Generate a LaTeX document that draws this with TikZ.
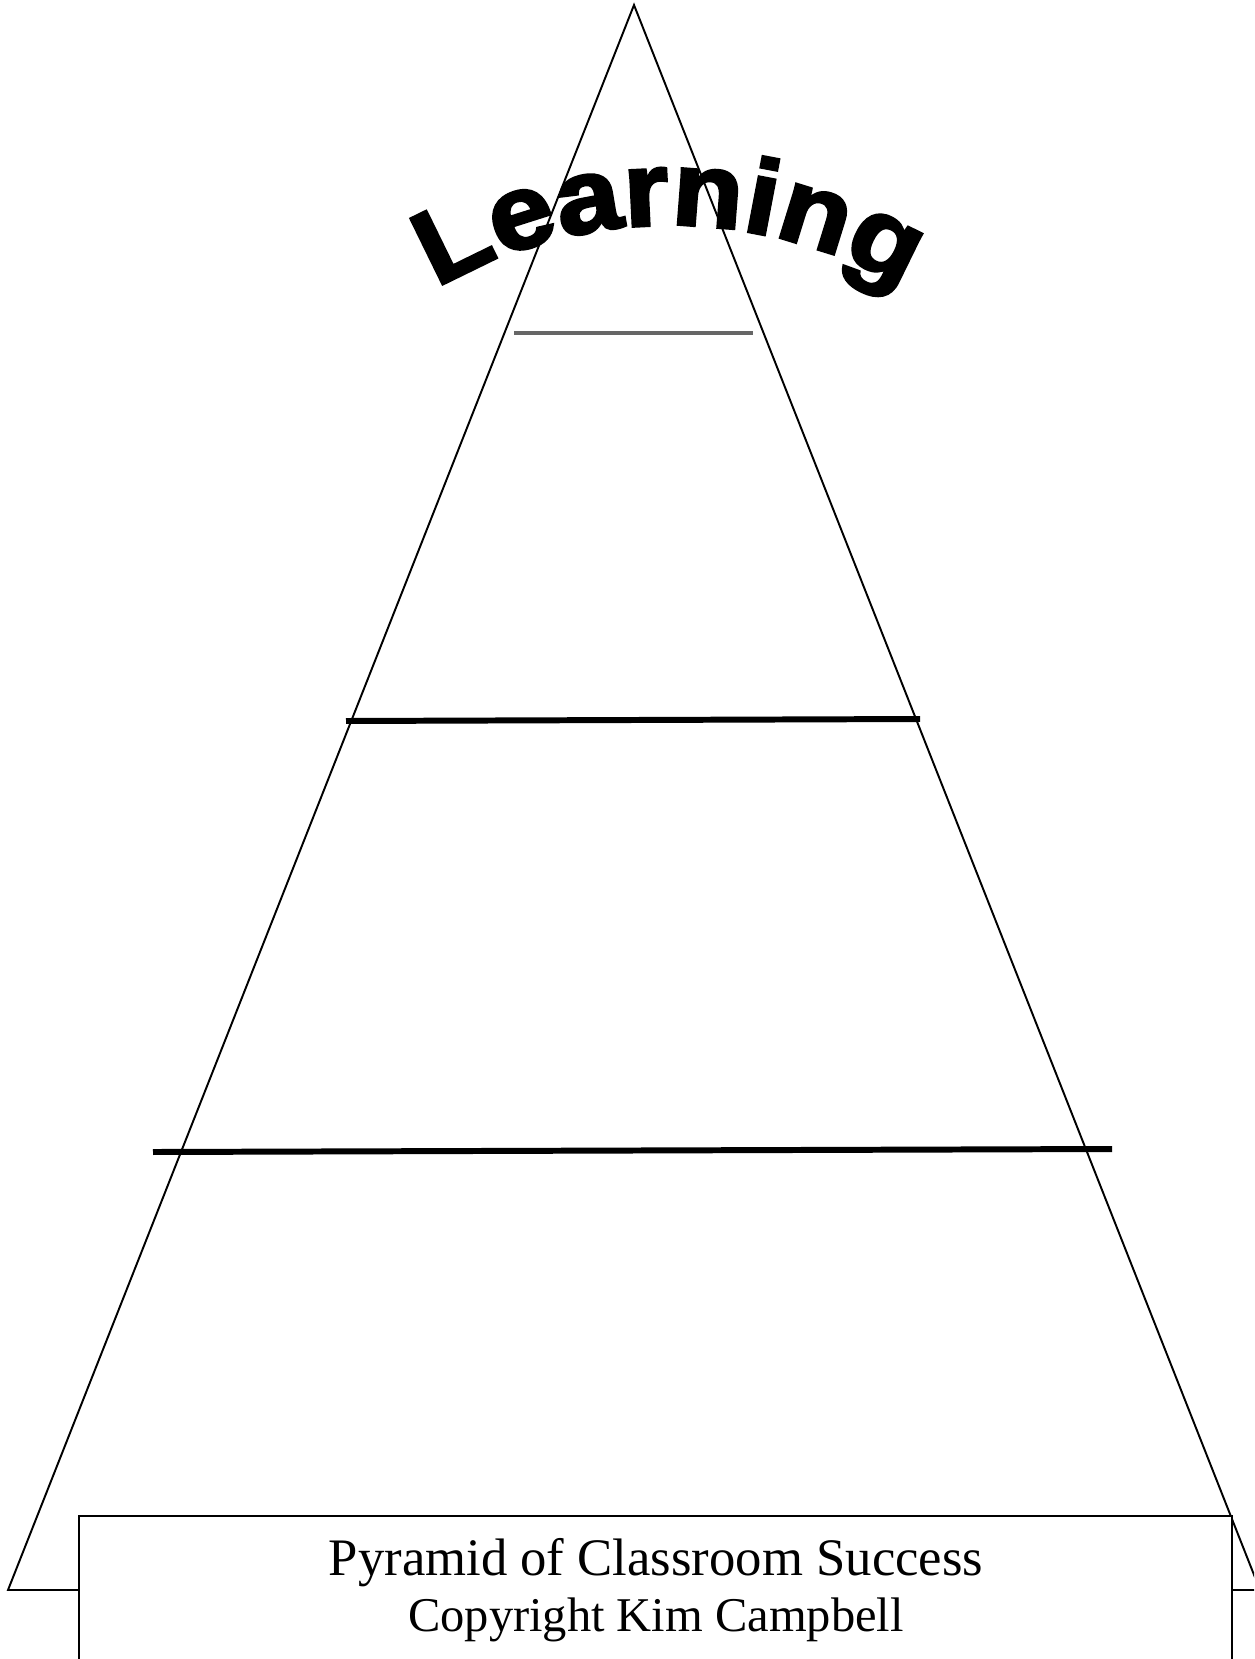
\documentclass[tikz,border=0pt]{standalone}
\usepackage{fontspec}
\setmainfont{Liberation Serif}
\newfontfamily\archfont[FakeBold=3, FakeStretch=1.1]{Liberation Sans Bold}
\usetikzlibrary{decorations.text}

\begin{document}
\begin{tikzpicture}[x=0.02cm, y=-0.02cm, every node/.style={inner sep=0pt}, side/.style={line width=1.1pt, line join=miter}, rung/.style={line width=3.4pt}, toprung/.style={line width=2pt, black!60}]
\useasboundingbox (0,0) rectangle (1254,1659);
\clip (0,0) rectangle (1254,1659);
\coordinate (apex) at (634,5);
\coordinate (bl) at (8,1590);
\coordinate (br) at (1260,1590);
\draw[side] (bl) -- (apex) -- (br) -- cycle;
\coordinate (r1l) at (514,333);
\coordinate (r1r) at (753,333);
\coordinate (r2l) at (346,721);
\coordinate (r2r) at (920,719);
\coordinate (r3l) at (153,1152);
\coordinate (r3r) at (1112,1149);
\draw[toprung] (r1l) -- (r1r);
\draw[rung] (r2l) -- (r2r);
\draw[rung] (r3l) -- (r3r);
\draw[side, fill=white] (79,1516) rectangle (1232,1690);
\node[font=\fontsize{30}{30}\selectfont, anchor=base] (title) at (656,1575) {Pyramid of Classroom Success};
\node[font=\fontsize{27.6}{28}\selectfont, anchor=base] (owner) at (656,1631) {Copyright Kim Campbell};
\path[decorate, decoration={text along path, text align=center, text={|\archfont\fontsize{60}{60}\selectfont|Learning}}] ([shift={(-135:460)}]670,685) arc[start angle=-135, end angle=-45, radius=460];
\end{tikzpicture}
\end{document}
